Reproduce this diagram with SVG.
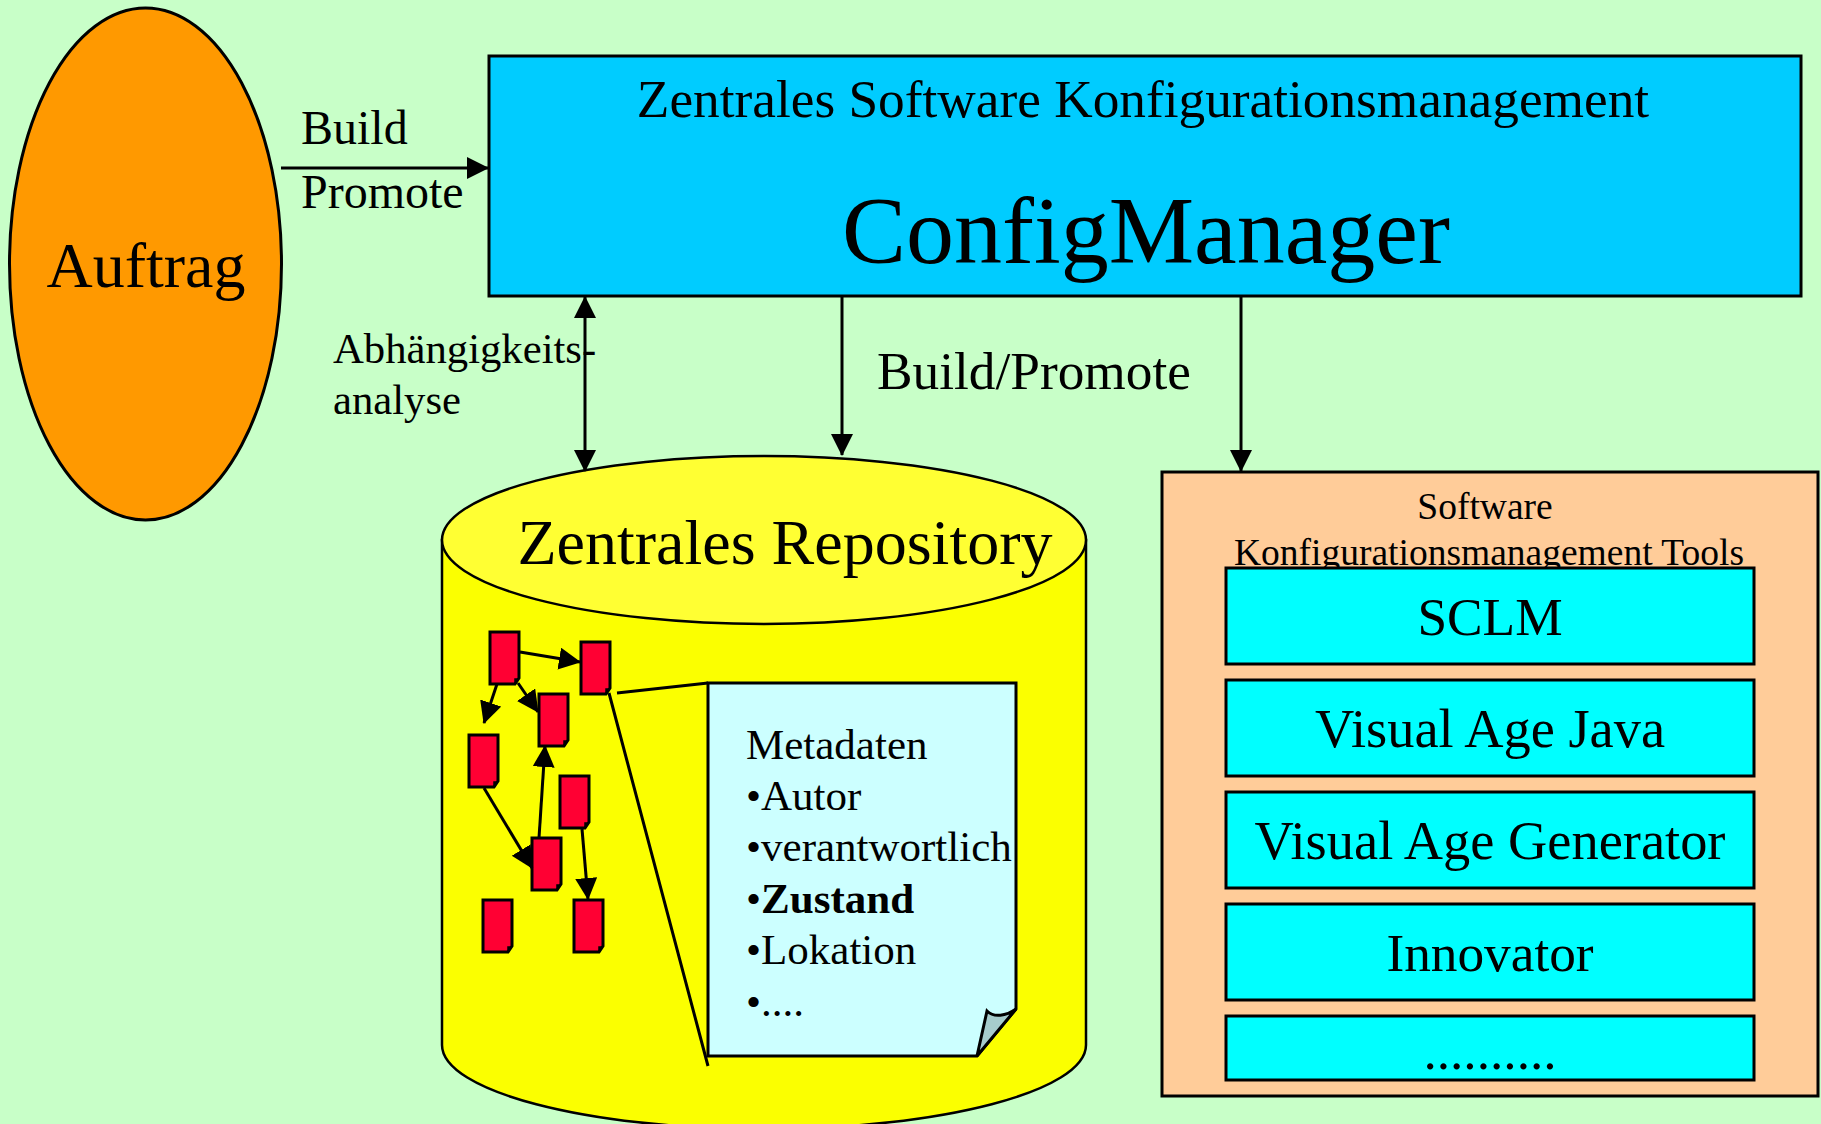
<svg xmlns="http://www.w3.org/2000/svg" width="1821" height="1124" viewBox="0 0 1821 1124">
<style>
text{font-family:"Liberation Serif","Times New Roman",serif;fill:#000}
.s{stroke:#000;stroke-width:3}
.m{text-anchor:middle}
.c{fill:none;stroke:#000;stroke-width:3}
.d{fill:#ff0033;stroke:#000;stroke-width:3}
.t{fill:#00ffff;stroke:#000;stroke-width:3}
</style>
<defs>
<marker id="a" markerUnits="userSpaceOnUse" markerWidth="24" markerHeight="24" refX="21" refY="11" orient="auto-start-reverse"><path d="M0 0L22 11L0 22Z" fill="#000"/></marker>
<g id="doc"><path d="M0 0H29V46L25 52H0Z"/><path d="M25 51V47H28Z" fill="#000" stroke-width="1.500"/></g>
</defs>
<rect width="1821" height="1124" fill="#c8ffc8"/>
<g id="auftrag"><ellipse cx="145.500" cy="264" rx="136" ry="256" fill="#ff9900" class="s"/><text x="146" y="287" font-size="64" class="m">Auftrag</text></g>
<g id="configmanager"><rect x="489" y="56" width="1312" height="240" fill="#00ccff" class="s"/><text x="1143" y="117" font-size="53.300" class="m">Zentrales Software Konfigurationsmanagement</text><text x="1146" y="263" font-size="96" class="m">ConfigManager</text></g>
<g id="repository"><path d="M442 540V1045C442 1091 586 1129 764 1129S1086 1091 1086 1045V540Z" fill="#fbff00" stroke="#000" stroke-width="2.500"/><ellipse cx="764" cy="540" rx="322" ry="84" fill="#ffff33" stroke="#000" stroke-width="2.500"/><text x="785" y="564" font-size="64" class="m">Zentrales Repository</text></g>
<g id="docs" class="d">
<use href="#doc" x="490" y="632"/><use href="#doc" x="581" y="642"/><use href="#doc" x="539" y="694"/><use href="#doc" x="469" y="735"/><use href="#doc" x="560" y="776"/><use href="#doc" x="532" y="838"/><use href="#doc" x="483" y="900"/><use href="#doc" x="574" y="900"/>
</g>
<g id="metadaten">
<path d="M708 683H1016V1009L977 1056H708Z" fill="#ccffff" class="s"/>
<path d="M977 1056L987 1011C994 1018 1006 1016 1016 1009Z" fill="#a6cccc" class="s"/>
<path d="M617 693L708 683M609 693L708 1066" class="c"/>
<g font-size="43"><text x="746" y="759">Metadaten</text><text x="746" y="810">•Autor</text><text x="746" y="861">•verantwortlich</text><text x="746" y="913">•<tspan font-weight="700">Zustand</tspan></text><text x="746" y="964">•Lokation</text><text x="746" y="1016">•....</text></g>
</g>
<g id="tools"><rect x="1162" y="472" width="656" height="624" fill="#ffcc99" class="s"/><text x="1485" y="519" font-size="37.500" class="m">Software</text><text x="1489" y="565" font-size="37.500" class="m">Konfigurationsmanagement Tools</text></g>
<g id="sclm"><rect x="1226" y="568" width="528" height="96" class="t"/><text x="1490" y="635" font-size="53.300" class="m">SCLM</text></g>
<g id="vaj"><rect x="1226" y="680" width="528" height="96" class="t"/><text x="1490" y="747" font-size="54.400" class="m">Visual Age Java</text></g>
<g id="vag"><rect x="1226" y="792" width="528" height="96" class="t"/><text x="1490" y="859" font-size="54.400" class="m">Visual Age Generator</text></g>
<g id="innovator"><rect x="1226" y="904" width="528" height="96" class="t"/><text x="1490" y="971" font-size="53.300" class="m">Innovator</text></g>
<g id="more"><rect x="1226" y="1016" width="528" height="64" class="t"/><text x="1490" y="1069" font-size="53.300" class="m">..........</text></g>
<g id="connectors">
<path d="M281 168H488" class="c" marker-end="url(#a)"/>
<path d="M585 297V471" class="c" marker-start="url(#a)" marker-end="url(#a)"/>
<path d="M842 296V455" class="c" marker-end="url(#a)"/>
<path d="M1241 296V471" class="c" marker-end="url(#a)"/>
<path d="M520 652L580 662" class="c" marker-end="url(#a)"/>
<path d="M497 684L484 723" class="c" marker-end="url(#a)"/>
<path d="M518 683L538 712" class="c" marker-end="url(#a)"/>
<path d="M484 788L532 868" class="c" marker-end="url(#a)"/>
<path d="M539 838L545 746" class="c" marker-end="url(#a)"/>
<path d="M582 829L588 899" class="c" marker-end="url(#a)"/>
</g>
<g id="labels">
<text x="301" y="144" font-size="48">Build</text><text x="301" y="208" font-size="48">Promote</text>
<text x="333" y="363" font-size="42.700">Abhängigkeits-</text><text x="333" y="414" font-size="42.700">analyse</text>
<text x="877" y="389" font-size="53.300">Build/Promote</text>
</g>
</svg>
